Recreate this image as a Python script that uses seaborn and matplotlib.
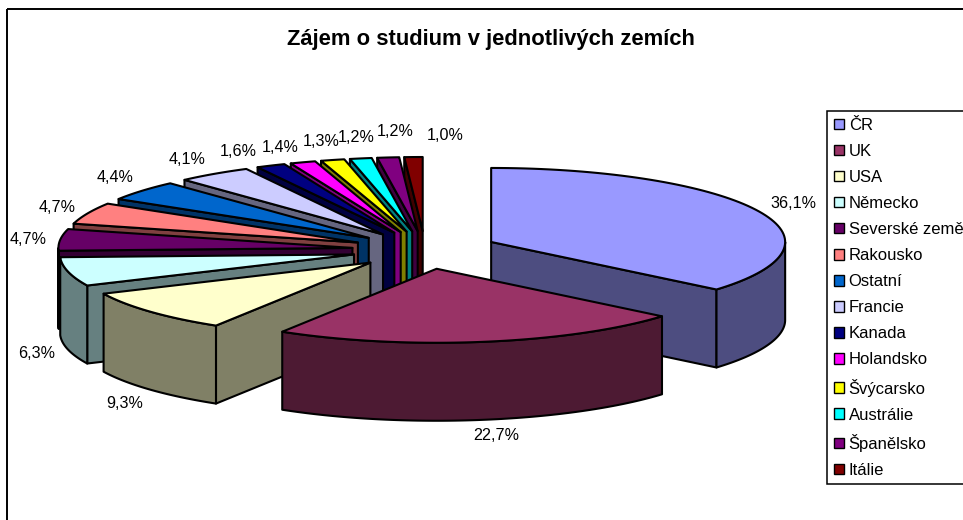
"""
Zajem o studium v jednotlivych zemich - exploded 3D pie, Excel style.
Slices are extruded ellipse sectors drawn back to front.
"""

import numpy as np
import seaborn as sns

from matplotlib import pyplot as plt
from matplotlib.patches import Patch, Polygon, Rectangle

countries = ['ČR', 'UK', 'USA', 'Německo', 'Severské země', 'Rakousko',
             'Ostatní', 'Francie', 'Kanada', 'Holandsko', 'Švýcarsko',
             'Austrálie', 'Španělsko', 'Itálie']
shares = [36.1, 22.7, 9.3, 6.3, 4.7, 4.7, 4.4, 4.1, 1.6, 1.4, 1.3, 1.2, 1.2,
          1.0]
share_labels = ['36,1%', '22,7%', '9,3%', '6,3%', '4,7%', '4,7%', '4,4%',
                '4,1%', '1,6%', '1,4%', '1,3%', '1,2%', '1,2%', '1,0%']
top_colors = ['#9999FF', '#993366', '#FFFFCC', '#CCFFFF', '#660066',
              '#FF8080', '#0066CC', '#CCCCFF', '#000080', '#FF00FF',
              '#FFFF00', '#00FFFF', '#800080', '#800000']
side_colors = ['#4D4D80', '#4D1A33', '#808066', '#668080', '#330033',
               '#804040', '#003366', '#666680', '#000040', '#800080',
               '#808000', '#008080', '#400040', '#400000']

# pie geometry in pixels of the 963x520 picture
CX, CY = 425, 250
RX, RY = 294, 74
EXPLODE_X, EXPLODE_Y = 73, 19
DEPTH = 78
LABEL_XY = [(793, 204), (496, 436), (125, 404), (37, 354), (28, 239),
            (57, 208), (115, 177), (187, 160), (238, 152), (280, 147),
            (321, 142), (356, 137), (395, 132), (445, 136)]


def draw_slice(ax, start, end, top, side):
    """
    Draws one slice, from start to end in degrees clockwise from 12 o'clock.
    Only the walls that face the viewer are drawn, then the top face.
    """
    mid = np.radians((start + end) / 2)
    ax_x = CX + EXPLODE_X * np.sin(mid)
    ax_y = CY - EXPLODE_Y * np.cos(mid)

    def rim(deg):
        t = np.radians(deg)
        return ax_x + RX * np.sin(t), ax_y - RY * np.cos(t)

    def wall(points):
        low = [(x, y + DEPTH) for x, y in reversed(points)]
        ax.add_patch(Polygon(points + low, closed=True, facecolor=side,
                             edgecolor='black', linewidth=1.5,
                             joinstyle='round'))

    if np.sin(np.radians(start)) < -1e-6:
        wall([(ax_x, ax_y), rim(start)])
    if np.sin(np.radians(end)) > 1e-6:
        wall([(ax_x, ax_y), rim(end)])

    lo, hi = max(start, 90), min(end, 270)
    if lo < hi:
        wall([rim(d) for d in np.linspace(lo, hi, 80)])

    arc = [rim(d) for d in np.linspace(start, end, 80)]
    ax.add_patch(Polygon([(ax_x, ax_y)] + arc, closed=True, facecolor=top,
                         edgecolor='black', linewidth=1.5,
                         joinstyle='round'))


def main():
    sns.set_theme(style='white')
    plt.rcParams['font.family'] = ['Liberation Sans', 'DejaVu Sans']

    fig = plt.figure(figsize=(9.63, 5.2), dpi=100)
    ax = fig.add_axes([0, 0, 1, 1])
    ax.set_xlim(0, 963)
    ax.set_ylim(520, 0)
    ax.axis('off')

    ax.add_patch(Rectangle((6.5, 9), 970, 530, fill=False, edgecolor='black',
                           linewidth=1.4))

    angles = np.cumsum([0] + shares) / sum(shares) * 360
    # CR sits behind everything, then the small back slices, UK is last
    order = [0] + list(range(13, 0, -1))
    for i in order:
        draw_slice(ax, angles[i], angles[i + 1], top_colors[i],
                   side_colors[i])

    for text, (x, y) in zip(share_labels, LABEL_XY):
        ax.text(x, y, text, ha='center', va='center', fontsize=11.6,
                color='black')

    ax.text(491, 39, 'Zájem o studium v jednotlivých zemích', ha='center',
            va='center', fontsize=15.8, fontweight='bold', color='black')

    handles = [Patch(facecolor=c, edgecolor='black', linewidth=1)
               for c in sns.color_palette(top_colors)]
    legend = ax.legend(handles, countries, loc='upper left',
                       bbox_to_anchor=(827 / 963, 1 - 111 / 520),
                       borderaxespad=0, fontsize=12, frameon=True,
                       fancybox=False, edgecolor='black', framealpha=1,
                       handlelength=0.6, handleheight=0.6,
                       handletextpad=0.3, labelspacing=0.665,
                       borderpad=0.4, labelcolor='black')
    legend.get_frame().set_linewidth(1.1)

    fig.savefig('out.png', dpi=100, facecolor='white')


if __name__ == '__main__':
    main()
